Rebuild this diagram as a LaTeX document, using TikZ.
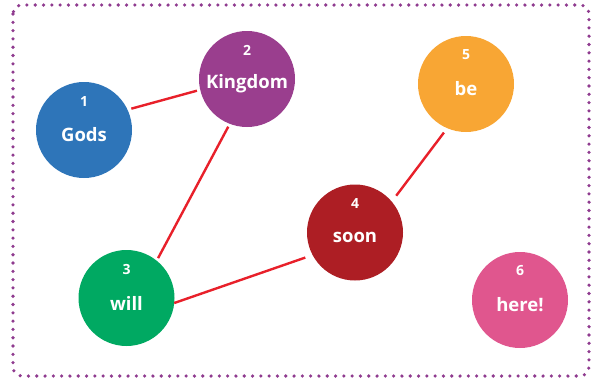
\documentclass[tikz,border=0pt]{standalone}
\usepackage{fontspec}
\setmainfont{Open Sans}
\definecolor{cblue}{HTML}{2E75B9}
\definecolor{cpurple}{HTML}{9A3E8E}
\definecolor{corange}{HTML}{F8A634}
\definecolor{cgreen}{HTML}{00A962}
\definecolor{cdred}{HTML}{AD1E24}
\definecolor{cpink}{HTML}{E0568E}
\definecolor{cline}{HTML}{E8202A}
\definecolor{cborder}{HTML}{8F3B8F}
\begin{document}
\begin{tikzpicture}[x=1pt,y=-1pt,
  bubble/.style={circle,minimum size=96pt,inner sep=0pt,outer sep=0pt,draw=none},
  numtxt/.style={text=white,font=\bfseries\fontsize{14}{14}\selectfont},
  wordtxt/.style={text=white,font=\bfseries\fontsize{18.5}{18.5}\selectfont},
  link/.style={draw=cline,line width=2.4pt}]
\useasboundingbox (0,0) rectangle (592,381);
\draw[cborder,line width=3.6pt,line cap=round,dash pattern=on 0pt off 8.3pt,rounded corners=9pt] (13,5) rectangle (589,376);
\node[bubble,fill=cblue] (n1) at (84,130) {};
\node[bubble,fill=cpurple] (n2) at (247,79) {};
\node[bubble,fill=cgreen] (n3) at (126.5,298) {};
\node[bubble,fill=cdred] (n4) at (355,232.5) {};
\node[bubble,fill=corange] (n5) at (466,84) {};
\node[bubble,fill=cpink] (n6) at (520,300) {};
\foreach \n/\num/\w in {n1/1/Gods,n2/2/Kingdom,n3/3/will,n4/4/soon,n5/5/be,n6/6/here!}{
  \node[numtxt] (\n num) at ([yshift=29pt]\n.center) {\num};
  \node[wordtxt] (\n word) at ([yshift=-5pt]\n.center) {\w};
}
\draw[link,shorten <=4pt,shorten >=3.4pt] (n1.25) -- (n2.193.5);
\draw[link,shorten <=3.3pt,shorten >=2.9pt] (n2.249.4) -- (n3.51.8);
\draw[link,shorten >=7.7pt] (n3.-6) -- (n4.208.4);
\draw[link,shorten <=7.4pt,shorten >=5.5pt] (n4.40.2) -- (n5.247.2);
\end{tikzpicture}
\end{document}
